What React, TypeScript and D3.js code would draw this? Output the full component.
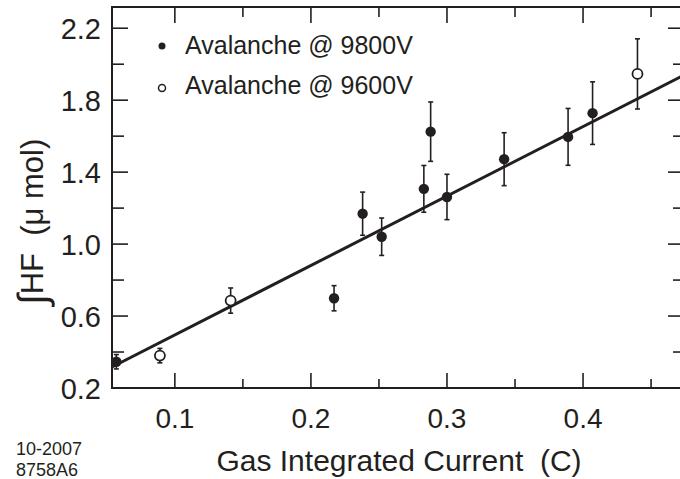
import React from "react";
import * as d3 from "d3";

const xFilled = [0.057, 0.217, 0.238, 0.252, 0.283, 0.288, 0.3, 0.342, 0.389, 0.407];
const yFilled = [0.346, 0.699, 1.169, 1.041, 1.307, 1.625, 1.262, 1.472, 1.596, 1.728];
const eFilled = [0.04, 0.07, 0.12, 0.104, 0.13, 0.165, 0.126, 0.147, 0.158, 0.174];

const xOpen = [0.089, 0.141, 0.44];
const yOpen = [0.38, 0.686, 1.946];
const eOpen = [0.04, 0.07, 0.195];

const fitSlope = 3.86;
const fitIntercept = 0.109;

const xMajor = [0.1, 0.2, 0.3, 0.4];
const xMinor = [0.15, 0.25, 0.35, 0.45];
const yMajor = [0.2, 0.6, 1.0, 1.4, 1.8, 2.2];
const yMinor = [0.4, 0.8, 1.2, 1.6, 2.0];

const legendLabels = ["Avalanche @ 9800V", "Avalanche @ 9600V"];

const W = 680;
const H = 479;
const C = "#231f20";
const FONT = "'Liberation Sans', Arial, Helvetica, sans-serif";

export default function App() {
  const left = 112, right = 684, top = 7, bottom = 388;
  const x = d3.scaleLinear().domain([0.0538, 0.4742]).range([left, right]);
  const y = d3.scaleLinear().domain([0.2, 2.318]).range([bottom, top]);
  const [x0, x1] = x.domain();
  const line = d3.line<number>().x((d) => x(d)).y((d) => y(fitIntercept + fitSlope * d));
  const cap = 2.5;

  const errBar = (xv: number, yv: number, e: number, key: string) => (
    <g key={key} stroke={C} strokeWidth={1.6}>
      <line x1={x(xv)} x2={x(xv)} y1={y(yv + e)} y2={y(yv - e)} />
      <line x1={x(xv) - cap} x2={x(xv) + cap} y1={y(yv + e)} y2={y(yv + e)} />
      <line x1={x(xv) - cap} x2={x(xv) + cap} y1={y(yv - e)} y2={y(yv - e)} />
    </g>
  );

  return (
    <svg width={W} height={H} style={{ position: "absolute", left: 0, top: 0, background: "#fff" }} fontFamily={FONT}>
      <rect x={0} y={0} width={W} height={H} fill="#fff" />
      {/* fit line */}
      <path d={line([x0, x1]) || ""} fill="none" stroke={C} strokeWidth={3} />
      {/* error bars */}
      {xFilled.map((xv, i) => errBar(xv, yFilled[i], eFilled[i], "ef" + i))}
      {xOpen.map((xv, i) => errBar(xv, yOpen[i], eOpen[i], "eo" + i))}
      {/* markers */}
      {xFilled.map((xv, i) => (
        <circle key={"f" + i} cx={x(xv)} cy={y(yFilled[i])} r={5.2} fill={C} />
      ))}
      {xOpen.map((xv, i) => (
        <circle key={"o" + i} cx={x(xv)} cy={y(yOpen[i])} r={5} fill="#fff" stroke={C} strokeWidth={1.8} />
      ))}
      {/* frame */}
      <rect x={left} y={top} width={right - left} height={bottom - top} fill="none" stroke={C} strokeWidth={2} />
      {/* x ticks */}
      {xMajor.map((v) => (
        <g key={"xm" + v} stroke={C} strokeWidth={1.6}>
          <line x1={x(v)} x2={x(v)} y1={bottom} y2={bottom - 15} />
          <line x1={x(v)} x2={x(v)} y1={top} y2={top + 16} />
        </g>
      ))}
      {xMinor.map((v) => (
        <g key={"xn" + v} stroke={C} strokeWidth={1.6}>
          <line x1={x(v)} x2={x(v)} y1={bottom} y2={bottom - 9} />
          <line x1={x(v)} x2={x(v)} y1={top} y2={top + 10} />
        </g>
      ))}
      {yMajor.map((v) => (
        <g key={"ym" + v} stroke={C} strokeWidth={1.6}>
          <line x1={left} x2={left + 16} y1={y(v)} y2={y(v)} />
          <line x1={right} x2={right - 16} y1={y(v)} y2={y(v)} />
        </g>
      ))}
      {yMinor.map((v) => (
        <g key={"yn" + v} stroke={C} strokeWidth={1.6}>
          <line x1={left} x2={left + 12} y1={y(v)} y2={y(v)} />
          <line x1={right} x2={right - 11} y1={y(v)} y2={y(v)} />
        </g>
      ))}
      {/* tick labels */}
      {xMajor.map((v) => (
        <text key={"xl" + v} x={x(v)} y={428} textAnchor="middle" fontSize={28} fill={C}>
          {d3.format(".1f")(v)}
        </text>
      ))}
      {yMajor.map((v) => (
        <text key={"yl" + v} x={101} y={y(v) + 10.5} textAnchor="end" fontSize={29} fill={C}>
          {d3.format(".1f")(v)}
        </text>
      ))}
      {/* axis titles */}
      <text x={399} y={471} textAnchor="middle" fontSize={30} fill={C} style={{ whiteSpace: "pre" }}>
        {"Gas Integrated Current  (C)"}
      </text>
      <text transform="translate(43,222) rotate(-90)" textAnchor="middle" fontSize={31} fill={C} style={{ whiteSpace: "pre" }}>
        <tspan fontSize={40} dy={3}>{"\u222B"}</tspan>
        <tspan dy={-3}>{"HF  (\u03BC mol)"}</tspan>
      </text>
      {/* legend */}
      <circle cx={162} cy={46} r={3.5} fill={C} />
      <text x={185} y={54} fontSize={25} fill={C}>{legendLabels[0]}</text>
      <circle cx={162} cy={88} r={3.5} fill="#fff" stroke={C} strokeWidth={1.5} />
      <text x={185} y={94} fontSize={25} fill={C}>{legendLabels[1]}</text>
      {/* stamp */}
      <text x={16} y={455} fontSize={18} fill={C}>10-2007</text>
      <text x={16} y={476} fontSize={18} fill={C}>8758A6</text>
    </svg>
  );
}
